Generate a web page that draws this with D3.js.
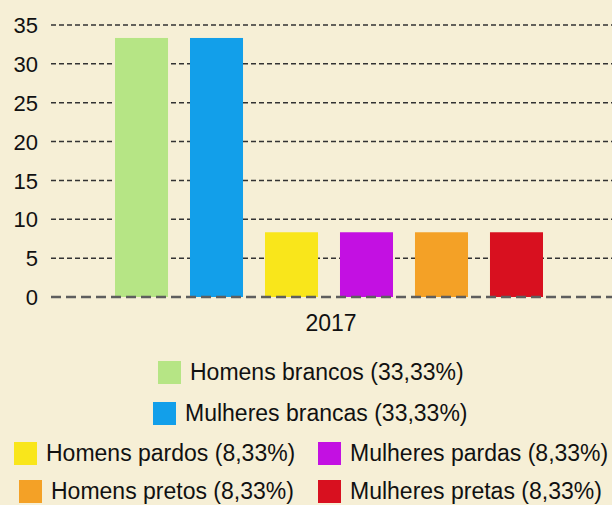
<!DOCTYPE html>
<html>
<head>
    <meta charset="utf-8">
    <title>2017</title>
    <script src="https://cdn.jsdelivr.net/npm/d3@7"></script>
    <style>
        html, body { margin: 0; padding: 0; background: #f6efd6; }
        svg { display: block; font-family: "Liberation Sans", Arial, sans-serif; }
    </style>
</head>
<body>
<script>
    // data
    var categories = ['Homens brancos', 'Mulheres brancas', 'Homens pardos', 'Mulheres pardas', 'Homens pretos', 'Mulheres pretas'];
    var values = [33.33, 33.33, 8.33, 8.33, 8.33, 8.33];
    var colors = ['#b6e585', '#129fea', '#f9e61b', '#c310e2', '#f4a126', '#d8101f'];
    var legendLabels = ['Homens brancos (33,33%)', 'Mulheres brancas (33,33%)', 'Homens pardos (8,33%)',
        'Mulheres pardas (8,33%)', 'Homens pretos (8,33%)', 'Mulheres pretas (8,33%)'];
    var yearLabel = '2017';
    var yTicks = [0, 5, 10, 15, 20, 25, 30, 35];

    var w = 612, h = 505;

    var svg = d3.select('body').append('svg')
            .attr('width', w)
            .attr('height', h);

    var y = d3.scaleLinear().domain([0, 35]).range([297, 25]);
    var x = d3.scaleBand().domain(categories)
            .range([77.5, 580.5])
            .paddingInner(0.293)
            .paddingOuter(0.5);

    // grid lines + tick labels
    var yAxis = d3.axisLeft(y).tickValues(yTicks).tickSize(0).tickPadding(0);
    var ga = svg.append('g').attr('transform', 'translate(38,0)').call(yAxis);
    ga.select('.domain').remove();
    ga.selectAll('text')
            .attr('x', 0)
            .attr('dy', '0.35em')
            .style('font-size', '22px')
            .style('font-family', '"Liberation Sans", Arial, sans-serif')
            .attr('fill', '#111');

    svg.append('g').selectAll('line')
            .data(yTicks.filter(function(d) { return d > 0; }))
            .enter().append('line')
            .attr('x1', 51).attr('x2', w)
            .attr('y1', function(d) { return y(d); })
            .attr('y2', function(d) { return y(d); })
            .attr('stroke', '#333')
            .attr('stroke-width', 1.5)
            .attr('stroke-dasharray', '5,3');

    // bars
    svg.append('g').selectAll('rect')
            .data(values)
            .enter().append('rect')
            .attr('x', function(d, i) { return x(categories[i]); })
            .attr('y', function(d) { return y(d); })
            .attr('width', x.bandwidth())
            .attr('height', function(d) { return y(0) - y(d); })
            .attr('fill', function(d, i) { return colors[i]; });

    // zero line
    svg.append('line')
            .attr('x1', 51).attr('x2', w)
            .attr('y1', y(0)).attr('y2', y(0))
            .attr('stroke', '#5e5e5e')
            .attr('stroke-width', 2.5)
            .attr('stroke-dasharray', '10,5');

    svg.append('text')
            .attr('x', (x(categories[0]) + x(categories[5]) + x.bandwidth()) / 2 + 2)
            .attr('y', 331)
            .attr('text-anchor', 'middle')
            .style('font-size', '23px')
            .attr('fill', '#111')
            .text(yearLabel);

    // legend (swatch position for each item)
    var legendPos = [[158, 361], [153, 402], [14, 442], [318, 442], [19, 480], [318, 480]];
    var lg = svg.append('g').selectAll('g')
            .data(legendLabels)
            .enter().append('g')
            .attr('transform', function(d, i) { return 'translate(' + legendPos[i][0] + ',' + legendPos[i][1] + ')'; });

    lg.append('rect')
            .attr('width', 23).attr('height', 23)
            .attr('fill', function(d, i) { return colors[i]; });

    lg.append('text')
            .attr('x', 32)
            .attr('y', 19)
            .style('font-size', '23px')
            .attr('fill', '#111')
            .text(function(d) { return d; });
</script>
</body>
</html>
